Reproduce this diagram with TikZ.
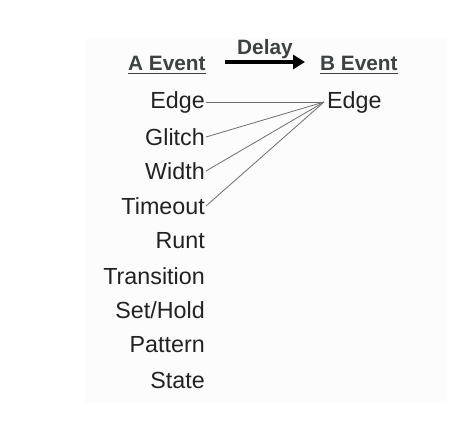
\documentclass[tikz,border=0pt]{standalone}
\usepackage{fontspec}
\setmainfont{Liberation Sans}
\usetikzlibrary{arrows.meta}
\definecolor{txt}{HTML}{222222}
\definecolor{hdr}{HTML}{3C4242}
\definecolor{ln}{HTML}{6E6E6E}
\begin{document}
\begin{tikzpicture}[x=1pt,y=-1pt,
  item/.style={anchor=east,inner sep=0pt,text=txt,font=\fontsize{23.3}{25}\selectfont},
  hdrtext/.style={inner sep=0pt,text=hdr,font=\bfseries\fontsize{20.8}{22}\selectfont},
  conn/.style={draw=ln,line width=0.8pt}]
\useasboundingbox (0,0) rectangle (474,426);
\fill[black!1.2] (85,38) rectangle (447,403);
% headers
\node[hdrtext,anchor=base west] (A) at (128,70) {A Event};
\draw[hdr,line width=1.8pt] (A.base west)++(0,3.5) -- ([yshift=-3.5pt]A.base east);
\node[hdrtext,anchor=base west] (B) at (320,70) {B Event};
\draw[hdr,line width=1.8pt] (B.base west)++(0,3.5) -- ([yshift=-3.5pt]B.base east);
\node[hdrtext,anchor=base west] (D) at (237,54) {Delay};
\coordinate (a1) at (225,62);
\coordinate (a2) at (305,62);
\draw[black,line width=4pt,-{Triangle[length=12pt,width=14pt]}] (a1) -- (a2);
% left items
\node[item] (e) at (205,102) {Edge};
\node[item] (g) at (205,137) {Glitch};
\node[item] (w) at (205,171) {Width};
\node[item] (t) at (205,206) {Timeout};
\node[item] (r) at (205,241) {Runt};
\node[item] (tr) at (205,276) {Transition};
\node[item] (s) at (205,310) {Set/Hold};
\node[item] (p) at (205,345) {Pattern};
\node[item] (st) at (205,380) {State};
% right item
\node[item,anchor=west] (be) at (327,102) {Edge};
\coordinate (j) at (324,102);
\draw[conn] (e.east) ++(1,0) -- (j);
\draw[conn] (g.east) ++(1,0) -- (j);
\draw[conn] (w.east) ++(1,0) -- (j);
\draw[conn] (t.east) ++(1,0) -- (j);
\end{tikzpicture}
\end{document}
